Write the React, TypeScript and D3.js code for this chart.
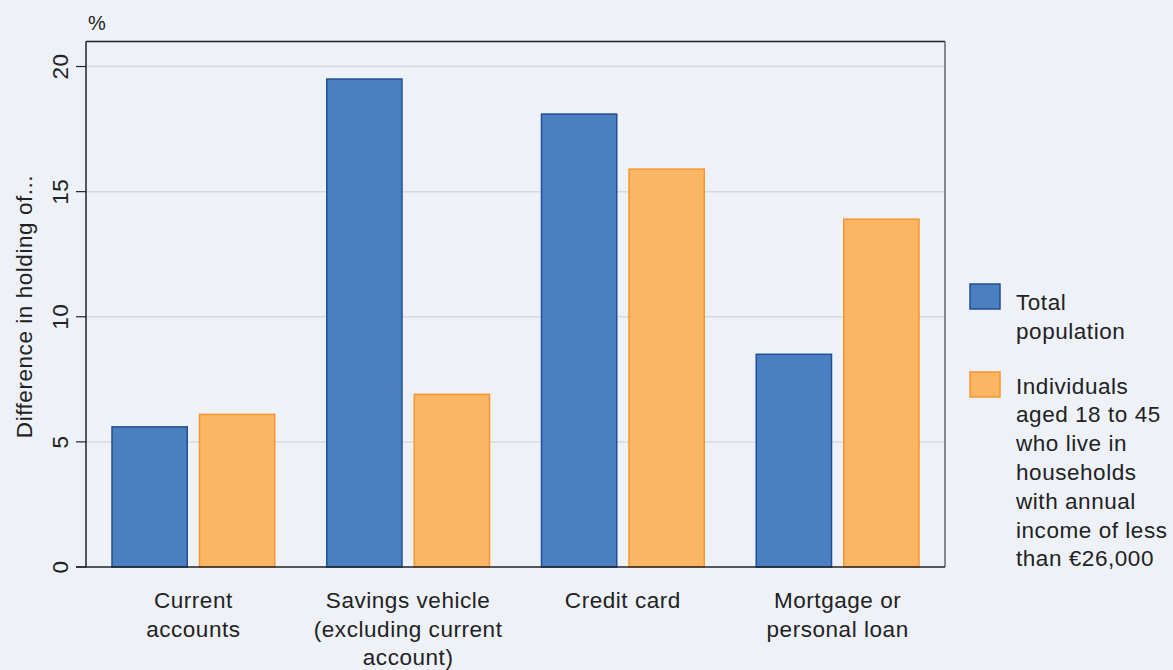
import React from "react";
import * as d3 from "d3";

const categories: string[][] = [
  ["Current", "accounts"],
  ["Savings vehicle", "(excluding current", "account)"],
  ["Credit card"],
  ["Mortgage or", "personal loan"],
];
const seriesNames = ["Total population", "Individuals aged 18 to 45 who live in households with annual income of less than €26,000"];
const totalPopulation = [5.6, 19.5, 18.1, 8.5];
const lowIncomeYoung = [6.1, 6.9, 15.9, 13.9];
const yTicks = [0, 5, 10, 15, 20];
const legendLines: string[][] = [
  ["Total", "population"],
  ["Individuals", "aged 18 to 45", "who live in", "households", "with annual", "income of less", "than €26,000"],
];

const W = 1173;
const H = 670;
const left = 86;
const right = 945;
const top = 41.5;
const bottom = 567;
const FONT = "'Liberation Sans', Arial, Helvetica, sans-serif";
const FS = 22.5;
const LS = 0.55;
const fills = ["#4a80c1", "#fbb663"];
const strokes = ["#1f4f96", "#f7952e"];

export default function App() {
  const x = d3.scaleBand<number>().domain(d3.range(categories.length)).range([left, right]).paddingInner(0).paddingOuter(0);
  const inner = d3.scaleBand<number>().domain([0, 1]).range([26, x.bandwidth() - 26]).paddingInner(0.14);
  const y = d3.scaleLinear().domain([0, 21]).range([bottom, top]);
  const series = [totalPopulation, lowIncomeYoung];

  return (
    <svg width={W} height={H} style={{ position: "absolute", left: 0, top: 0, background: "#eef1f8" }} fontFamily={FONT}>
      <rect x={0} y={0} width={W} height={H} fill="#eef1f8" />
      {yTicks.map((t) => (
        <g key={t}>
          {t > 0 && <line x1={left} x2={right} y1={y(t)} y2={y(t)} stroke="#d6d8dd" strokeWidth={1.5} />}
          <line x1={left - 10} x2={left} y1={y(t)} y2={y(t)} stroke="#222" strokeWidth={1.2} />
          <text
            transform={`translate(67.5,${y(t)}) rotate(-90)`}
            textAnchor="middle"
            fontSize={FS}
            letterSpacing={LS}
            fill="#222"
          >
            {t}
          </text>
        </g>
      ))}
      {series.map((vals, si) =>
        vals.map((v, ci) => (
          <rect
            key={`${si}-${ci}`}
            x={(x(ci) as number) + (inner(si) as number)}
            y={y(v)}
            width={inner.bandwidth()}
            height={y(0) - y(v)}
            fill={fills[si]}
            stroke={strokes[si]}
            strokeWidth={1.5}
          />
        ))
      )}
      {/* frame */}
      <line x1={left} x2={right} y1={top} y2={top} stroke="#222" strokeWidth={1.5} />
      <line x1={right} x2={right} y1={top} y2={bottom} stroke="#444" strokeWidth={1.2} />
      <line x1={left} x2={left} y1={top} y2={bottom} stroke="#222" strokeWidth={1.5} />
      <line x1={left - 10} x2={right} y1={bottom} y2={bottom} stroke="#222" strokeWidth={1.5} />
      {categories.map((lines, ci) => (
        <text key={ci} textAnchor="middle" fontSize={FS} letterSpacing={LS} fill="#222">
          {lines.map((l, li) => (
            <tspan key={li} x={(x(ci) as number) + x.bandwidth() / 2} y={608 + li * 28.5}>
              {l}
            </tspan>
          ))}
        </text>
      ))}
      <text x={88} y={30} fontSize={20} fill="#222">%</text>
      <text transform={`translate(32,306.5) rotate(-90)`} textAnchor="middle" fontSize={FS} letterSpacing={LS} fill="#222">
        Difference in holding of...
      </text>
      {legendLines.map((lines, si) => (
        <g key={si}>
          <title>{seriesNames[si]}</title>
          <rect x={970} y={si === 0 ? 284 : 372} width={30} height={25} fill={fills[si]} stroke={strokes[si]} strokeWidth={1.5} />
          <text fontSize={FS} letterSpacing={LS} fill="#222">
            {lines.map((l, li) => (
              <tspan key={li} x={1016} y={(si === 0 ? 310 : 393.5) + li * 28.8}>
                {l}
              </tspan>
            ))}
          </text>
        </g>
      ))}
    </svg>
  );
}
